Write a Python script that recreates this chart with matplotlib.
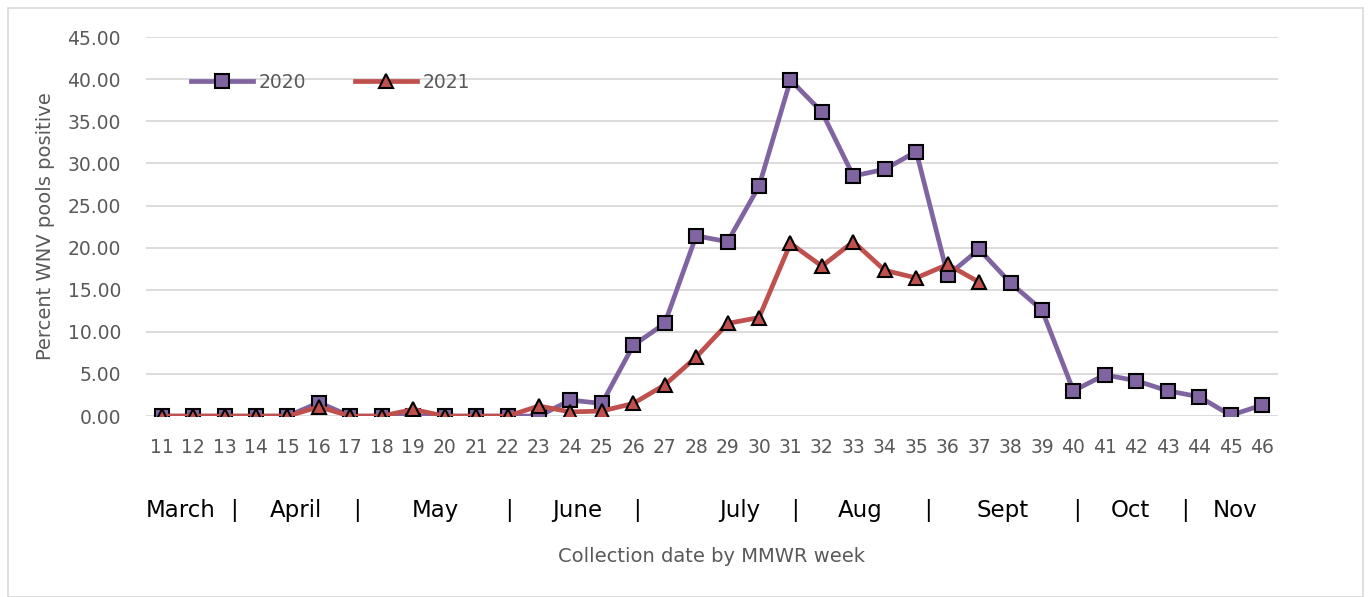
import numpy as np
import matplotlib.pyplot as plt
import matplotlib.transforms as mtransforms
from matplotlib.patches import Rectangle

weeks = list(range(11, 47))

pct_2020 = [0, 0, 0, 0, 0, 1.6, 0, 0, 0, 0, 0, 0, 0, 1.9, 1.5, 8.4, 11.0, 21.4,
            20.7, 27.3, 39.9, 36.1, 28.5, 29.3, 31.4, 16.7, 19.8, 15.8, 12.6,
            3.0, 4.9, 4.2, 3.0, 2.3, 0.1, 1.3]
weeks_2021 = list(range(11, 38))
pct_2021 = [0, 0, 0, 0, 0, 1.1, 0, 0, 0.8, 0, 0, 0, 1.2, 0.5, 0.6, 1.5, 3.7, 7.0,
            11.0, 11.7, 20.5, 17.8, 20.7, 17.3, 16.4, 18.0, 15.9]

months = ['March', 'April', 'May', 'June', 'July', 'Aug', 'Sept', 'Oct', 'Nov']
month_pos = [11.6, 15.26, 19.71, 24.22, 29.4, 33.22, 37.76, 41.8, 45.14]
sep_pos = [13.29, 17.2, 22.06, 26.13, 31.15, 35.38, 40.12, 43.55]

fig = plt.figure(figsize=(13.71, 5.97), dpi=100)
ax = fig.add_axes([0.1065, 0.303, 0.8255, 0.635])
fig.patches.append(Rectangle((0.006, 0.0), 0.988, 0.987, transform=fig.transFigure,
                             fill=False, edgecolor='#d9d9d9', lw=1.2))

gray = '#595959'
ax.plot(weeks, pct_2020, color='#8064A2', lw=3.4, marker='s', markersize=10,
        markerfacecolor='#8064A2', markeredgecolor='black', markeredgewidth=1.5,
        label='2020', zorder=3)
ax.plot(weeks_2021, pct_2021, color='#C0504D', lw=3.4, marker='^', markersize=10.5,
        markerfacecolor='#C0504D', markeredgecolor='black', markeredgewidth=1.5,
        label='2021', zorder=4)

ax.set_xlim(10.5, 46.5)
ax.set_ylim(0, 45)
ax.set_yticks(np.arange(0, 46, 5))
ax.set_yticklabels(['%.2f' % v for v in np.arange(0, 46, 5)])
ax.set_xticks(weeks)
ax.grid(axis='y', color='#d9d9d9', lw=1.3)
ax.set_axisbelow(True)
for s in ax.spines.values():
    s.set_visible(False)
ax.tick_params(length=0, labelsize=13.5, labelcolor=gray)
ax.tick_params(axis='x', pad=16)
ax.tick_params(axis='y', pad=18)

ax.set_ylabel('Percent WNV pools positive', fontsize=14, color=gray, labelpad=9)

trans = mtransforms.blended_transform_factory(ax.transData, ax.transAxes)
for m, x in zip(months, month_pos):
    ax.text(x, -0.25, m, transform=trans, ha='center', va='center', fontsize=16.5)
for x in sep_pos:
    ax.text(x, -0.25, '|', transform=trans, ha='center', va='center', fontsize=16.5)
ax.text(0.5, -0.37, 'Collection date by MMWR week', transform=ax.transAxes,
        ha='center', va='center', fontsize=14, color=gray)

leg = ax.legend(loc='upper left', ncol=2, frameon=False, fontsize=13.5,
                bbox_to_anchor=(0.025, 0.95), handlelength=3.3, columnspacing=2.6,
                handletextpad=0.3)
for t in leg.get_texts():
    t.set_color(gray)

fig.savefig('out.png', dpi=100)
